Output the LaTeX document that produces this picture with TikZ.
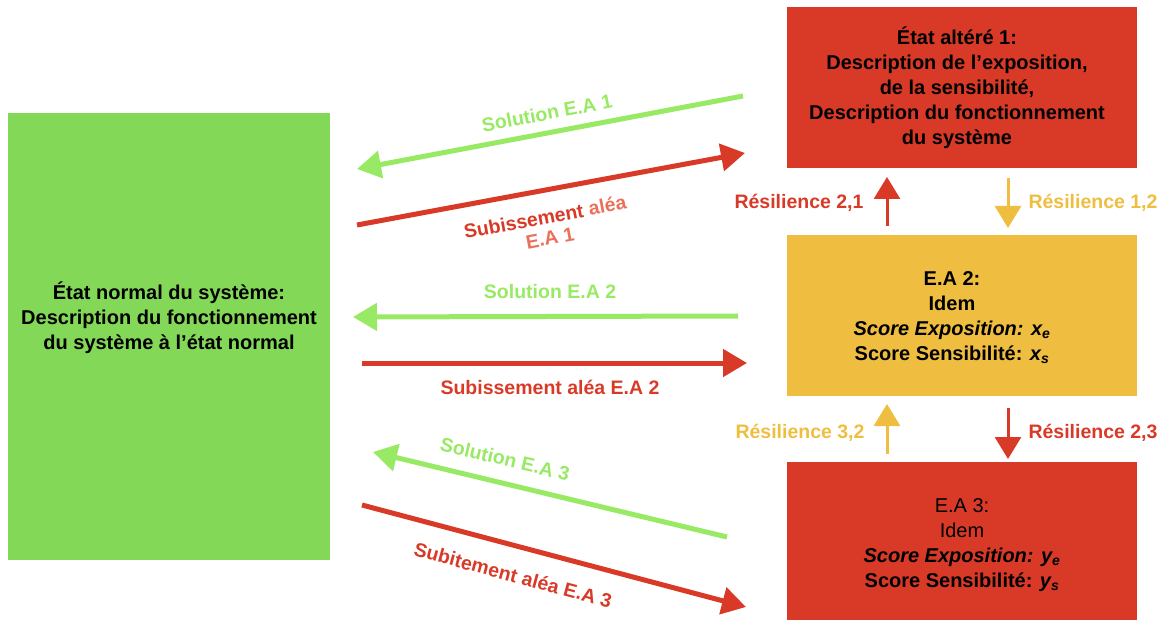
\documentclass[tikz,border=0pt]{standalone}
\usepackage{fontspec}
\setmainfont{Liberation Sans}
\usetikzlibrary{arrows.meta}
\definecolor{cred}{RGB}{217,58,39}
\definecolor{cyel}{RGB}{239,190,64}
\definecolor{cgreen}{RGB}{132,216,88}
\definecolor{lgreen}{RGB}{152,234,100}
\definecolor{salmon}{RGB}{234,112,92}
\begin{document}
\begin{tikzpicture}[x=1pt,y=-1pt,
  box/.style={inner sep=0pt, minimum width=350pt, minimum height=161pt},
  txt/.style={font=\fontsize{20}{25}\selectfont\bfseries, align=center},
  lbl/.style={font=\fontsize{19.5}{22}\selectfont\bfseries, align=center, inner sep=0pt},
  bigarrow/.style={line width=5pt, -{Triangle[length=24pt,width=27pt]}},
  smallarrow/.style={line width=3pt, -{Triangle[length=22pt,width=26pt]}}]
\useasboundingbox (0,0) rectangle (1170,620);
% boxes
\node[box, fill=cred] (ea1) at (962,87.5) {};
\node[txt] (ea1t) at (957,88) {État altéré 1:\\Description de l’exposition,\\de la sensibilité,\\Description du fonctionnement\\du système};
\node[box, fill=cyel] (ea2) at (962,315.5) {};
\node[txt] (ea2t) at (952,318) {E.A 2:\\Idem\\\textit{Score Exposition: x\textsubscript{e}}\\Score Sensibilité: \textit{x\textsubscript{s}}};
\node[box, fill=cred, minimum height=162pt] (ea3) at (962,543) {};
\node[txt] (ea3t) at (962,545) {\mdseries E.A 3:\\\mdseries Idem\\\textit{Score Exposition: y\textsubscript{e}}\\Score Sensibilité: \textit{y\textsubscript{s}}};
\node[inner sep=0pt, minimum width=322pt, minimum height=447pt, fill=cgreen] (en) at (169,336.5) {};
\node[txt] (ent) at (169,318) {État normal du système:\\Description du fonctionnement\\du système à l’état normal};
% coordinates of the long arrows
\coordinate (s1a) at (743,96);
\coordinate (s1b) at (357,169);
\coordinate (u1a) at (357,225);
\coordinate (u1b) at (745,153);
\coordinate (s2a) at (738,316);
\coordinate (s2b) at (353,317);
\coordinate (u2a) at (362,363);
\coordinate (u2b) at (747,363);
\coordinate (s3a) at (727,537);
\coordinate (s3b) at (373,452);
\coordinate (u3a) at (362,505);
\coordinate (u3b) at (746,607);
\draw[bigarrow, lgreen] (s1a) -- (s1b);
\draw[bigarrow, cred] (u1a) -- (u1b);
\draw[bigarrow, lgreen] (s2a) -- (s2b);
\draw[bigarrow, cred] (u2a) -- (u2b);
\draw[bigarrow, lgreen] (s3a) -- (s3b);
\draw[bigarrow, cred] (u3a) -- (u3b);
% labels
\node[lbl, text=lgreen, rotate=11] (ls1) at (547,113) {Solution E.A 1};
\node[lbl, rotate=10.5, text=cred] (lu1) at (545,217) {Subissement \textcolor{salmon}{aléa}};
\node[lbl, rotate=10.5, text=salmon] (lu1b) at (550,238) {E.A 1};
\node[lbl, text=lgreen] (ls2) at (550,292) {Solution E.A 2};
\node[lbl, text=cred] (lu2) at (550,387) {Subissement aléa E.A 2};
\node[lbl, text=lgreen, rotate=-13.5] (ls3) at (505,459) {Solution E.A 3};
\node[lbl, text=cred, rotate=-15] (lu3) at (513,575) {Subitement aléa E.A 3};
% resilience arrows
\coordinate (r21a) at (887,226);
\coordinate (r21b) at (887,177);
\coordinate (r12a) at (1008,178);
\coordinate (r12b) at (1008,228);
\coordinate (r32a) at (887,454);
\coordinate (r32b) at (887,404);
\coordinate (r23a) at (1008,408);
\coordinate (r23b) at (1008,459);
\draw[smallarrow, cred] (r21a) -- (r21b);
\draw[smallarrow, cyel] (r12a) -- (r12b);
\draw[smallarrow, cyel] (r32a) -- (r32b);
\draw[smallarrow, cred] (r23a) -- (r23b);
\node[lbl, text=cred] (lr21) at (799,203) {Résilience 2,1};
\node[lbl, text=cyel] (lr12) at (1093,203) {Résilience 1,2};
\node[lbl, text=cyel] (lr32) at (800,433) {Résilience 3,2};
\node[lbl, text=cred] (lr23) at (1093,433) {Résilience 2,3};
\end{tikzpicture}
\end{document}
